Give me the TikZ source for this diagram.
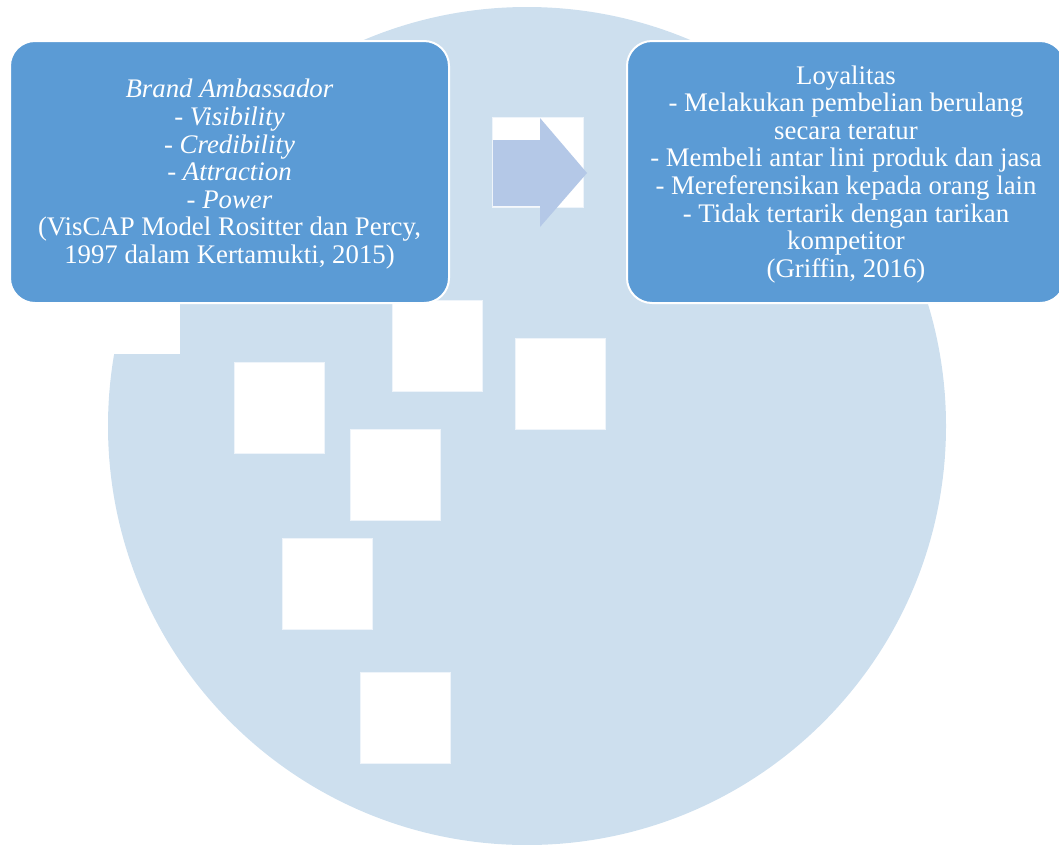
\documentclass[tikz,border=0pt]{standalone}
\usepackage{fontspec}
\setmainfont{Liberation Serif}
\definecolor{boxblue}{HTML}{5B9BD5}
\definecolor{discblue}{HTML}{CDDFEE}
\definecolor{arrowblue}{HTML}{B4C8E7}
\definecolor{holeedge}{HTML}{EEF4FA}
\newcommand{\firstline}{\rule{0pt}{23pt}}
\begin{document}
\begin{tikzpicture}[x=1pt,y=-1pt,
  panel/.style={draw=white, line width=2pt, fill=boxblue, rounded corners=25pt,
    text=white, align=center, inner sep=0pt,
    font=\fontsize{26.8}{27.6}\selectfont,
    minimum width=439pt, minimum height=262pt},
  hole/.style={fill=white, draw=holeedge, line width=0.7pt}]
\useasboundingbox (0,0) rectangle (1059,844);
\clip (0,0) rectangle (1059,844);

% background disc
\fill[discblue] (527,426) circle (419pt);
% white notch at the left of the disc
\fill[white] (0,262) rectangle (180,354);
% white squares scattered over the disc
\foreach \x/\y in {392/300, 515/338, 234/362, 350/429, 282/538, 360/672}
  \draw[hole] (\x,\y) rectangle ++(90,91);

% block arrow on its white square
\draw[hole] (492,117) rectangle (583,207);
\fill[arrowblue] (493,140) -- (540,140) -- (540,118) -- (587,173)
  -- (540,227) -- (540,206) -- (493,206) -- cycle;

% the two panels
\node[panel] (ambassador) at (229.5,172) {%
  \firstline\textit{Brand Ambassador}\\
  \textit{- Visibility}\\
  \textit{- Credibility}\\
  \textit{- Attraction}\\
  \textit{- Power}\\
  (VisCAP Model Rositter dan Percy,\\
  1997 dalam Kertamukti, 2015)};
\node[panel, minimum width=438pt] (loyalty) at (846,172) {%
  \firstline Loyalitas\\
  - Melakukan pembelian berulang\\
  secara teratur\\
  - Membeli antar lini produk dan jasa\\
  - Mereferensikan kepada orang lain\\
  - Tidak tertarik dengan tarikan\\
  kompetitor\\
  (Griffin, 2016)};
\end{tikzpicture}
\end{document}
